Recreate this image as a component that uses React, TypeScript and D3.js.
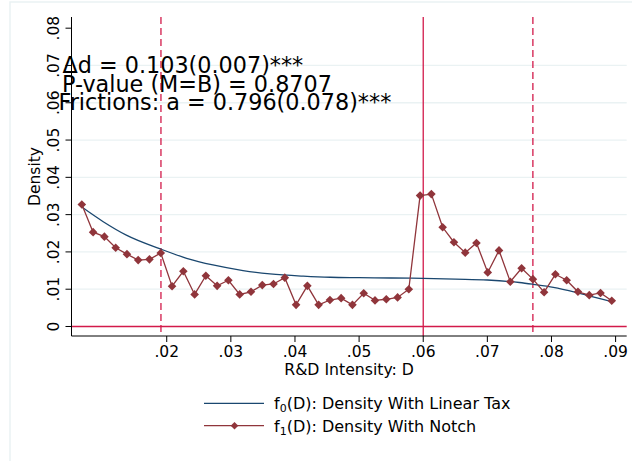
import React from "react";
import * as d3 from "d3";

// Binned density with the notch (f1)
const notchX = [
  0.00676, 0.00852, 0.01028, 0.01204, 0.0138, 0.01555, 0.01731, 0.01907,
  0.02083, 0.02259, 0.02435, 0.0261, 0.02786, 0.02962, 0.03138, 0.03314,
  0.0349, 0.03665, 0.03841, 0.04017, 0.04193, 0.04369, 0.04545, 0.0472,
  0.04896, 0.05072, 0.05248, 0.05424, 0.056, 0.05775, 0.05951, 0.06127,
  0.06303, 0.06479, 0.06655, 0.0683, 0.07006, 0.07182, 0.07358, 0.07534,
  0.0771, 0.07885, 0.08061, 0.08237, 0.08413, 0.08589, 0.08765, 0.0894,
];
const notchY = [
  0.0327, 0.0253, 0.0241, 0.0211, 0.0194, 0.0178, 0.018, 0.0197,
  0.0108, 0.0148, 0.0086, 0.0136, 0.0109, 0.0124, 0.0086, 0.0093,
  0.0111, 0.0114, 0.0131, 0.0058, 0.0109, 0.0058, 0.0071, 0.0076,
  0.0058, 0.0089, 0.007, 0.0073, 0.0078, 0.01, 0.0351, 0.0355,
  0.0266, 0.0226, 0.0198, 0.0224, 0.0145, 0.0204, 0.012, 0.0156,
  0.0127, 0.0092, 0.014, 0.0124, 0.0093, 0.0084, 0.009, 0.0069,
];

// Counterfactual density under the linear tax (f0)
const linearX = [
  0.0067, 0.0101, 0.0137, 0.019, 0.0231, 0.0272, 0.0319, 0.0361, 0.0413,
  0.0455, 0.05, 0.055, 0.06, 0.065, 0.07, 0.075, 0.0772, 0.0803, 0.0844, 0.0894,
];
const linearY = [
  0.0321, 0.0281, 0.0245, 0.0208, 0.0183, 0.0165, 0.015, 0.0141, 0.0135,
  0.0132, 0.0131, 0.013, 0.0129, 0.0127, 0.01247, 0.0118, 0.0113, 0.0105, 0.0089, 0.00665,
];

const xTicks = [0.02, 0.03, 0.04, 0.05, 0.06, 0.07, 0.08, 0.09];
const yTicks = [0, 0.01, 0.02, 0.03, 0.04, 0.05, 0.06, 0.07, 0.08];
const yGrid = [0.01, 0.02, 0.03, 0.04, 0.05, 0.06, 0.07];

const notchLine = 0.06;
const dashedLines = [0.0191, 0.0771];

const annotations = [
  "\u0394d = 0.103(0.007)***",
  "P-value (M=B) = 0.8707",
  "Frictions: a = 0.796(0.078)***",
];

const FONT = "DejaVu Sans";
const NAVY = "#1a476f";
const MAROON = "#90353b";
const RED = "#d21a4a";
const GRID = "#eaf2f3";

const fmt = (v: number) => (v === 0 ? "0" : d3.format(".2f")(v).replace(/^0/, ""));

export default function App() {
  const width = 632;
  const height = 461;
  const left = 71.5;
  const right = 626.7;
  const top = 17;
  const bottom = 336;

  const x = d3.scaleLinear().domain([0.00515, 0.09173]).range([left, right]);
  const y = d3.scaleLinear().domain([-0.00255, 0.083]).range([bottom, top]);

  const notchData = notchX.map((v, i) => [v, notchY[i]] as [number, number]);
  const linearData = linearX.map((v, i) => [v, linearY[i]] as [number, number]);

  const notchPath = d3
    .line<[number, number]>()
    .x((d) => x(d[0]))
    .y((d) => y(d[1]))(notchData);
  const linearPath = d3
    .line<[number, number]>()
    .x((d) => x(d[0]))
    .y((d) => y(d[1]))
    .curve(d3.curveMonotoneX)(linearData);

  const diamond = (cx: number, cy: number, r: number) =>
    `M${cx},${cy - r}L${cx + r},${cy}L${cx},${cy + r}L${cx - r},${cy}Z`;

  const annX = [62.5, 62, 58.5];
  const annY = [72.7, 91.5, 110];

  return (
    <svg
      width={width}
      height={height}
      style={{ position: "absolute", left: 0, top: 0, background: "#fff" }}
      fontFamily={FONT}
    >
      <rect x={0} y={0} width={width} height={height} fill="#fff" />
      {/* outer graph region frame */}
      <rect x={10} y={2} width={700} height={520} fill="none" stroke={GRID} strokeWidth={1.5} />

      {/* grid */}
      {yGrid.map((v) => (
        <line key={v} x1={left} x2={right} y1={y(v)} y2={y(v)} stroke={GRID} strokeWidth={1.3} />
      ))}

      {/* reference lines */}
      <line x1={left} x2={right} y1={y(0)} y2={y(0)} stroke={RED} strokeWidth={1.3} />
      <line x1={x(notchLine)} x2={x(notchLine)} y1={top} y2={bottom} stroke={RED} strokeWidth={1.3} />
      {dashedLines.map((v) => (
        <line
          key={v}
          x1={x(v)}
          x2={x(v)}
          y1={top}
          y2={bottom}
          stroke={RED}
          strokeWidth={1.3}
          strokeDasharray="7,4"
        />
      ))}

      {/* series */}
      <path d={linearPath ?? ""} fill="none" stroke={NAVY} strokeWidth={1.3} />
      <path d={notchPath ?? ""} fill="none" stroke={MAROON} strokeWidth={1.3} />
      {notchData.map((d, i) => (
        <path key={i} d={diamond(x(d[0]), y(d[1]), 4.3)} fill={MAROON} />
      ))}

      {/* axes */}
      <line x1={left} x2={left} y1={top} y2={bottom} stroke="#000" strokeWidth={1} />
      <line x1={left} x2={right} y1={bottom} y2={bottom} stroke="#000" strokeWidth={1} />
      {yTicks.map((v) => (
        <g key={v}>
          <line x1={left - 6} x2={left} y1={y(v)} y2={y(v)} stroke="#000" strokeWidth={1} />
          <text
            transform={`translate(59,${y(v)}) rotate(-90)`}
            textAnchor="middle"
            fontSize={15.5}
            fill="#000"
          >
            {fmt(v)}
          </text>
        </g>
      ))}
      {xTicks.map((v) => (
        <g key={v}>
          <line x1={x(v)} x2={x(v)} y1={bottom} y2={bottom + 6} stroke="#000" strokeWidth={1} />
          <text x={x(v)} y={356.7} textAnchor="middle" fontSize={15.5} fill="#000">
            {fmt(v)}
          </text>
        </g>
      ))}
      <text x={(left + right) / 2} y={375} textAnchor="middle" fontSize={15.7} fill="#000">
        R&amp;D Intensity: D
      </text>
      <text
        transform={`translate(40,${(top + bottom) / 2}) rotate(-90)`}
        textAnchor="middle"
        fontSize={15.5}
        fill="#000"
      >
        Density
      </text>

      {/* annotations */}
      {annotations.map((t, i) => (
        <text key={i} x={annX[i]} y={annY[i]} fontSize={22.3} fill="#000">
          {t}
        </text>
      ))}

      {/* legend */}
      <line x1={204} x2={264} y1={403.3} y2={403.3} stroke={NAVY} strokeWidth={1.3} />
      <text x={274} y={409} fontSize={16} fill="#000">
        f<tspan fontSize={11} dy={3}>0</tspan>
        <tspan dy={-3}>(D): Density With Linear Tax</tspan>
      </text>
      <line x1={204} x2={264} y1={425.7} y2={425.7} stroke={MAROON} strokeWidth={1.3} />
      <path d={diamond(234.5, 425.7, 3.8)} fill={MAROON} />
      <text x={274} y={431.5} fontSize={16} fill="#000">
        f<tspan fontSize={11} dy={3}>1</tspan>
        <tspan dy={-3}>(D): Density With Notch</tspan>
      </text>
    </svg>
  );
}
